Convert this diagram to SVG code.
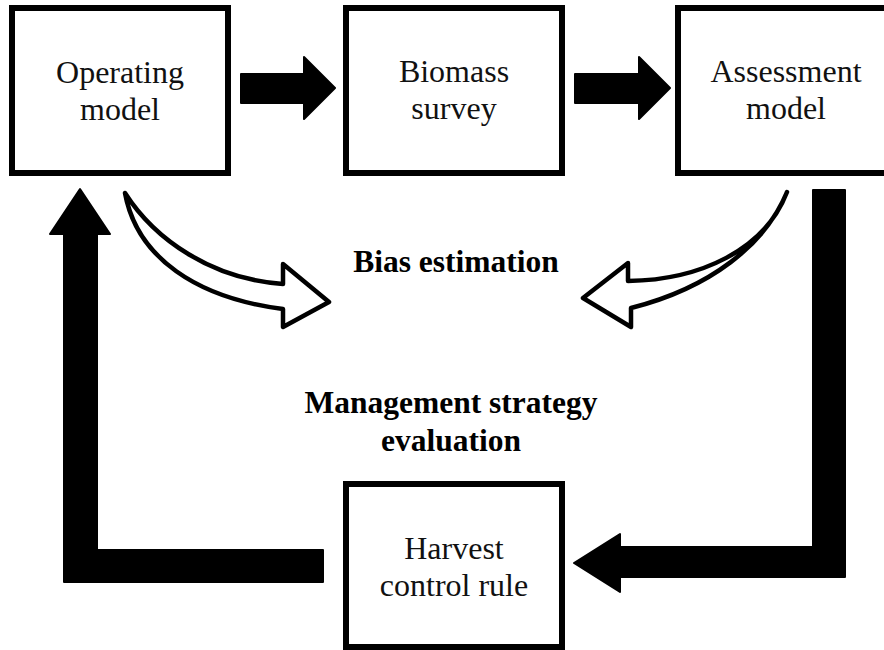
<svg xmlns="http://www.w3.org/2000/svg" width="884" height="650" viewBox="0 0 884 650">
<style>
.box{fill:#fff;stroke:#000;stroke-width:6}
.lbl{font-size:32px;fill:#111;text-anchor:middle}
.bold{font-size:31.5px;font-weight:bold;fill:#000;text-anchor:middle}
.solid{fill:#000;stroke:#000;stroke-width:2;stroke-linejoin:round}
.hollow{fill:#fff;stroke:#000;stroke-width:4.5;stroke-linejoin:round}
</style>
<rect width="884" height="650" fill="#fff"/>
<g id="connectors">
  <polygon class="solid" points="241,74 304,74 304,57 335,88 304,119 304,103 241,103"/>
  <polygon class="solid" points="575,74 639,74 639,57 670,88 639,119 639,103 575,103"/>
  <polygon class="solid" points="80,189 110,234 97,234 97,550 323,550 323,582 64,582 64,234 50,234"/>
  <polygon class="solid" points="813,190 845,190 845,577 620,577 620,592 574,563 620,534 620,547 813,547"/>
  <path class="hollow" d="M125,193 C155,240 212,279 283,284 L283,264 L329,302 L283,327 L283,309 C197,298 137,258 125,193 Z"/>
  <path class="hollow" d="M787,192 C765,250 700,280 628,281 L628,263 L583,298 L631,327 L631,308 C710,288 765,245 787,192 Z"/>
</g>
<g font-family="Liberation Serif, Times New Roman, serif">
<g id="operating-model">
  <rect class="box" x="12" y="8" width="216" height="165"/>
  <text class="lbl" x="120" y="83">Operating</text>
  <text class="lbl" x="120" y="120">model</text>
</g>
<g id="biomass-survey">
  <rect class="box" x="346" y="8" width="216" height="165"/>
  <text class="lbl" x="454" y="82">Biomass</text>
  <text class="lbl" x="454" y="119">survey</text>
</g>
<g id="assessment-model">
  <rect class="box" x="678" y="8" width="216" height="165"/>
  <text class="lbl" x="786" y="82">Assessment</text>
  <text class="lbl" x="786" y="119">model</text>
</g>
<g id="harvest-control-rule">
  <rect class="box" x="346" y="484" width="216" height="163"/>
  <text class="lbl" x="454" y="559">Harvest</text>
  <text class="lbl" x="454" y="596">control rule</text>
</g>
<g id="bias-estimation">
  <text class="bold" x="456" y="272">Bias estimation</text>
</g>
<g id="mse">
  <text class="bold" x="451" y="413">Management strategy</text>
  <text class="bold" x="451" y="451">evaluation</text>
</g>
</g>
</svg>
